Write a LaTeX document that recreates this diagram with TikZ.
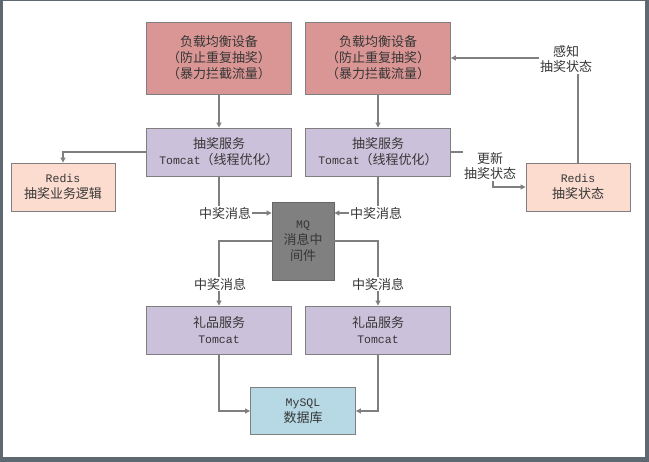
\documentclass[tikz,border=0pt]{standalone}
\usepackage{fontspec}
\newfontfamily\cjk{Noto Sans CJK SC}
\newfontfamily\lat{Liberation Mono}
\usepackage{tikz}
\usetikzlibrary{arrows.meta, positioning}
\definecolor{LBred}{HTML}{D99694}
\definecolor{SVCpurple}{HTML}{CCC1DA}
\definecolor{REDISpeach}{HTML}{FBDCCF}
\definecolor{MQgray}{HTML}{808080}
\definecolor{DBblue}{HTML}{B7D9E5}
\definecolor{LINEgray}{HTML}{7F7F7F}
\definecolor{TXTdark}{HTML}{363636}
\definecolor{FRAMEgray}{HTML}{5E6870}
\newcommand{\latin}[1]{{\lat\fontsize{11.5}{14}\selectfont #1}}

\begin{document}
\begin{tikzpicture}[x=1pt, y=-1pt,
  box/.style={
    draw=LINEgray, line width=0.9pt, inner sep=0pt, align=center,
    text=TXTdark, font=\cjk\fontsize{13}{16}\selectfont
  },
  lbbox/.style={box, fill=LBred, minimum width=145pt, minimum height=72pt},
  svcbox/.style={box, fill=SVCpurple, minimum width=145pt, minimum height=48pt},
  redisbox/.style={box, fill=REDISpeach, minimum width=104pt, minimum height=48pt},
  mqbox/.style={box, fill=MQgray, draw=LINEgray!80!black,
    minimum width=62pt, minimum height=78pt},
  dbbox/.style={box, fill=DBblue, minimum width=105pt, minimum height=47pt},
  conn/.style={LINEgray, line width=1.1pt, -{Triangle[length=5pt, width=5pt]}},
  lbl/.style={fill=white, inner sep=1pt, align=center, text=TXTdark,
    font=\cjk\fontsize{13}{15.5}\selectfont}
]
% ── Frame ─────────────────────────────────────────────────────
\useasboundingbox (0,0) rectangle (649,462);
\fill[FRAMEgray] (0,0) rectangle (649,462);
\fill[white] (2.5,1.5) rectangle (645,457);

% ── Load balancers (top) ──────────────────────────────────────
\node[lbbox] (lb1) at (219,58) {负载均衡设备\\（防止重复抽奖）\\（暴力拦截流量）};
\node[lbbox] (lb2) at (378,58) {负载均衡设备\\（防止重复抽奖）\\（暴力拦截流量）};

% ── Lottery services ──────────────────────────────────────────
\node[svcbox] (svc1) at (219,152) {抽奖服务\\\latin{Tomcat}（线程优化）};
\node[svcbox] (svc2) at (378,152) {抽奖服务\\\latin{Tomcat}（线程优化）};

% ── Redis ─────────────────────────────────────────────────────
\node[redisbox] (redisL) at (63,187) {\latin{Redis}\\抽奖业务逻辑};
\node[redisbox] (redisR) at (578,187) {\latin{Redis}\\抽奖状态};

% ── Message queue ─────────────────────────────────────────────
\node[mqbox] (mq) at (303,241) {\latin{MQ}\\消息中\\间件};

% ── Gift services ─────────────────────────────────────────────
\node[svcbox] (gift1) at (219,330) {礼品服务\\\latin{Tomcat}};
\node[svcbox] (gift2) at (378,330) {礼品服务\\\latin{Tomcat}};

% ── Database ──────────────────────────────────────────────────
\node[dbbox] (db) at (303,411) {\latin{MySQL}\\数据库};

% ── Connectors ────────────────────────────────────────────────
\draw[conn] (lb1) -- (svc1);
\draw[conn] (lb2) -- (svc2);
\draw[conn] (svc1.west) -| (redisL.north);
\draw[conn] (svc1.south) |- ([yshift=28pt]mq.west);
\draw[conn] (svc2.south) |- ([yshift=28pt]mq.east);
\draw[conn] (mq.west) -| (gift1.north);
\draw[conn] (mq.east) -| (gift2.north);
\draw[conn] (gift1.south) |- (db.west);
\draw[conn] (gift2.south) |- (db.east);
\draw[conn] (svc2.east) -- ++(42,0) |- (redisR.west);
\draw[conn] (redisR.north) |- (lb2.east);

% ── Connector labels ──────────────────────────────────────────
\node[lbl] (msg1) at (225,213) {中奖消息};
\node[lbl] (msg2) at (376,213) {中奖消息};
\node[lbl] (msg3) at (220,284) {中奖消息};
\node[lbl] (msg4) at (378,284) {中奖消息};
\node[lbl] (upd) at (490,166) {更新\\抽奖状态};
\node[lbl] (sense) at (566,59) {感知\\抽奖状态};
\end{tikzpicture}
\end{document}
